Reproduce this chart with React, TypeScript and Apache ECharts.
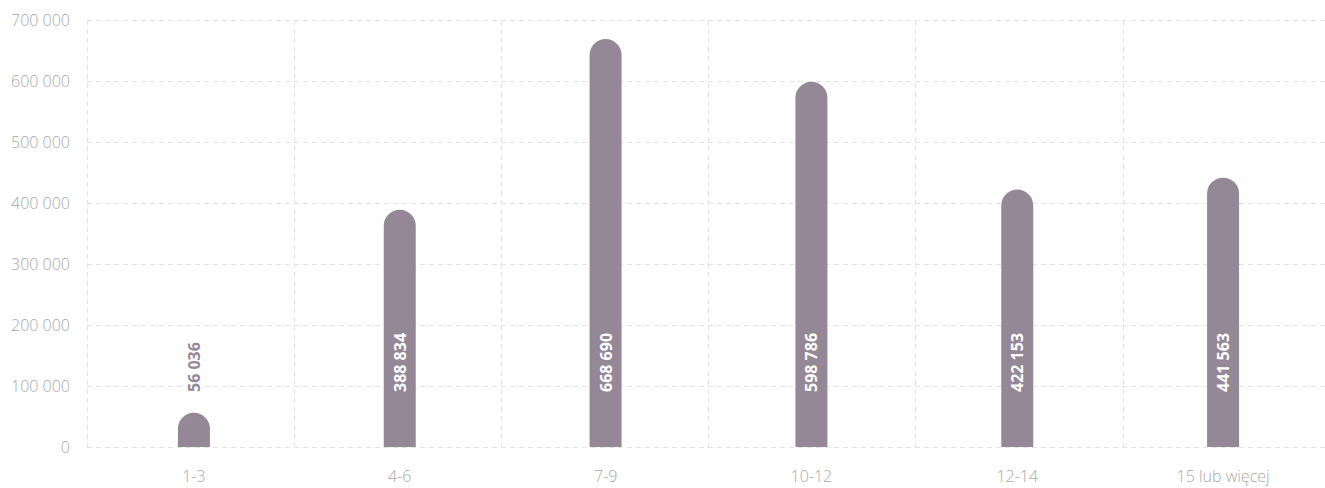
import React, { useEffect, useRef } from "react";
import * as echarts from "echarts";

const categories = ["1-3", "4-6", "7-9", "10-12", "12-14", "15 lub więcej"];
const values = [56036, 388834, 668690, 598786, 422153, 441563];
const yTicks = [0, 100000, 200000, 300000, 400000, 500000, 600000, 700000];

const BAR = "#948897";
const GRID = "#e3e3e3";
const TXT = "#a8a8a8";

const fmt = (v: number) => String(v).replace(/\B(?=(\d{3})+(?!\d))/g, " ");

export default function App() {
  const ref = useRef<HTMLDivElement>(null);
  useEffect(() => {
    const chart = echarts.init(ref.current!, null, { renderer: "svg" });
    const yMin = yTicks[0];
    const yMax = yTicks[yTicks.length - 1];
    chart.setOption({
      animation: false,
      grid: [
        { left: 91, right: -1, top: 20, bottom: 41, outerBoundsMode: "none", containLabel: false },
        { left: 87, right: -5, top: 20, bottom: 41, outerBoundsMode: "none", containLabel: false },
      ],
      xAxis: [
        {
          type: "category",
          gridIndex: 0,
          data: categories,
          axisLine: { show: false },
          axisTick: { show: false },
          axisLabel: { color: TXT, fontFamily: "Open Sans", fontWeight: 300, fontSize: 16, margin: 21 },
          splitLine: { show: false },
        },
        {
          type: "category",
          gridIndex: 1,
          data: categories,
          axisLine: { show: false },
          axisTick: { show: false },
          axisLabel: { show: false },
          splitLine: { show: true, interval: 0, lineStyle: { color: GRID, type: [5, 4] } },
        },
      ],
      yAxis: [
        {
          type: "value",
          gridIndex: 0,
          min: yMin,
          max: yMax,
          interval: 100000,
          axisLine: { show: false },
          axisTick: { show: false },
          axisLabel: { show: false },
          splitLine: { show: false },
        },
        {
          type: "value",
          gridIndex: 1,
          min: yMin,
          max: yMax,
          interval: 100000,
          axisLine: { show: false },
          axisTick: { show: false },
          axisLabel: { color: TXT, fontFamily: "Open Sans", fontWeight: 300, fontSize: 16, margin: 17, formatter: (v: number) => fmt(v) },
          splitLine: { show: true, lineStyle: { color: GRID, type: [5, 4] } },
        },
      ],
      series: [
        {
          type: "bar",
          xAxisIndex: 0,
          yAxisIndex: 0,
          barWidth: 32,
          itemStyle: { color: BAR, borderRadius: [16, 16, 0, 0] },
          data: values.map((v, i) => ({
            value: v,
            label: { color: i === 0 ? BAR : "#ffffff" },
          })),
          label: {
            show: true,
            position: "insideBottom",
            distance: 55,
            rotate: 90,
            align: "left",
            verticalAlign: "middle",
            fontFamily: "Open Sans",
            fontWeight: "bold",
            fontSize: 16,
            formatter: (p: any) => fmt(p.value),
          },
        },
      ],
    });
    return () => chart.dispose();
  }, []);
  return <div ref={ref} style={{ position: "absolute", left: 0, top: 0, width: 1325, height: 488 }} />;
}
